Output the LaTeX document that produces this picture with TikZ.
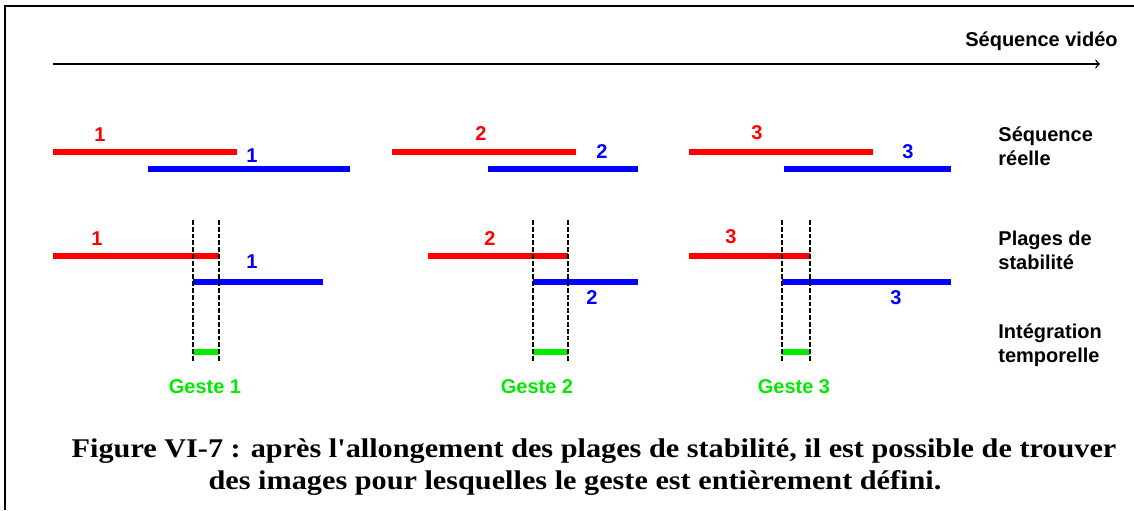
\documentclass[tikz,border=0pt]{standalone}
\usepackage{fontspec}
\setmainfont{Liberation Serif}
\setsansfont{Liberation Sans}
\newfontfamily\captionfont[FakeStretch=1.12]{Liberation Serif}
\usepackage{tikz}
\usetikzlibrary{arrows,positioning}
\definecolor{seqred}{RGB}{255,0,0}
\definecolor{seqblue}{RGB}{0,0,255}
\definecolor{gestgreen}{RGB}{0,235,0}

\begin{document}
\begin{tikzpicture}[x=0.5pt,y=-0.5pt,
    seqline/.style={line width=2.6pt, line cap=butt},
    numlabel/.style={font=\sffamily\bfseries\fontsize{10}{12}\selectfont, inner sep=0pt},
    rowlabel/.style={font=\sffamily\bfseries\fontsize{10}{12}\selectfont, align=left, anchor=base west, inner sep=0pt},
    limit/.style={line width=1.3pt, dash pattern=on 2.4pt off 1pt}]
    \useasboundingbox (0,0) rectangle (1134,510);

    % Frame
    \draw[line width=1pt] (5,510) -- (5,6) -- (1134,6);

    % Time axis
    \draw[-to, line width=0.7pt] (53,64) -- (1100,64);
    \node[numlabel, anchor=base east] (axis) at (1118,46) {Séquence vidéo};

    % Row labels (base = last line)
    \node[rowlabel] (reelle) at (998,165) {Séquence\\réelle};
    \node[rowlabel] (plages) at (998,269) {Plages de\\stabilité};
    \node[rowlabel] (integ) at (998,362) {Intégration\\temporelle};

    % Real sequence
    \draw[seqline, seqred] (53,152) -- (237,152);
    \draw[seqline, seqblue] (148,169) -- (350,169);
    \node[numlabel, text=seqred] (r1) at (100,135) {1};
    \node[numlabel, text=seqblue] (b1) at (252,156) {1};

    \draw[seqline, seqred] (392,152) -- (576,152);
    \draw[seqline, seqblue] (488,169) -- (638,169);
    \node[numlabel, text=seqred] (r2) at (481,134) {2};
    \node[numlabel, text=seqblue] (b2) at (602,152) {2};

    \draw[seqline, seqred] (689,152) -- (873,152);
    \draw[seqline, seqblue] (784,169) -- (951,169);
    \node[numlabel, text=seqred] (r3) at (757,133) {3};
    \node[numlabel, text=seqblue] (b3) at (908,152) {3};

    % Stability ranges
    \draw[seqline, seqred] (53,256) -- (219,256);
    \draw[seqline, seqblue] (193,282) -- (323,282);
    \node[numlabel, text=seqred] (pr1) at (97,239) {1};
    \node[numlabel, text=seqblue] (pb1) at (252,262) {1};

    \draw[seqline, seqred] (428,256) -- (568,256);
    \draw[seqline, seqblue] (533,282) -- (638,282);
    \node[numlabel, text=seqred] (pr2) at (490,239) {2};
    \node[numlabel, text=seqblue] (pb2) at (592,298) {2};

    \draw[seqline, seqred] (689,256) -- (810,256);
    \draw[seqline, seqblue] (782,282) -- (951,282);
    \node[numlabel, text=seqred] (pr3) at (731,237) {3};
    \node[numlabel, text=seqblue] (pb3) at (896,298) {3};

    % Temporal integration
    \draw[seqline, gestgreen] (193,352) -- (219,352);
    \draw[seqline, gestgreen] (533,352) -- (568,352);
    \draw[seqline, gestgreen] (782,352) -- (810,352);
    \node[numlabel, text=gestgreen] (g1) at (205,387) {Geste 1};
    \node[numlabel, text=gestgreen] (g2) at (537,387) {Geste 2};
    \node[numlabel, text=gestgreen] (g3) at (794,387) {Geste 3};

    % Limits of the gestures
    \draw[limit] (193,220) -- (193,362);
    \draw[limit] (219,220) -- (219,362);
    \draw[limit] (533,220) -- (533,362);
    \draw[limit] (568,220) -- (568,362);
    \draw[limit] (782,220) -- (782,362);
    \draw[limit] (810,220) -- (810,362);

    % Caption
    \node[font=\captionfont\bfseries\fontsize{13.5}{16}\selectfont, align=center, anchor=base, inner sep=0pt] (caption) at (594,489)
        {Figure VI-7 : après l'allongement des plages de stabilité, il est possible de trouver\\\hspace*{-19pt}des images pour lesquelles le geste est entièrement défini.};
\end{tikzpicture}
\end{document}
